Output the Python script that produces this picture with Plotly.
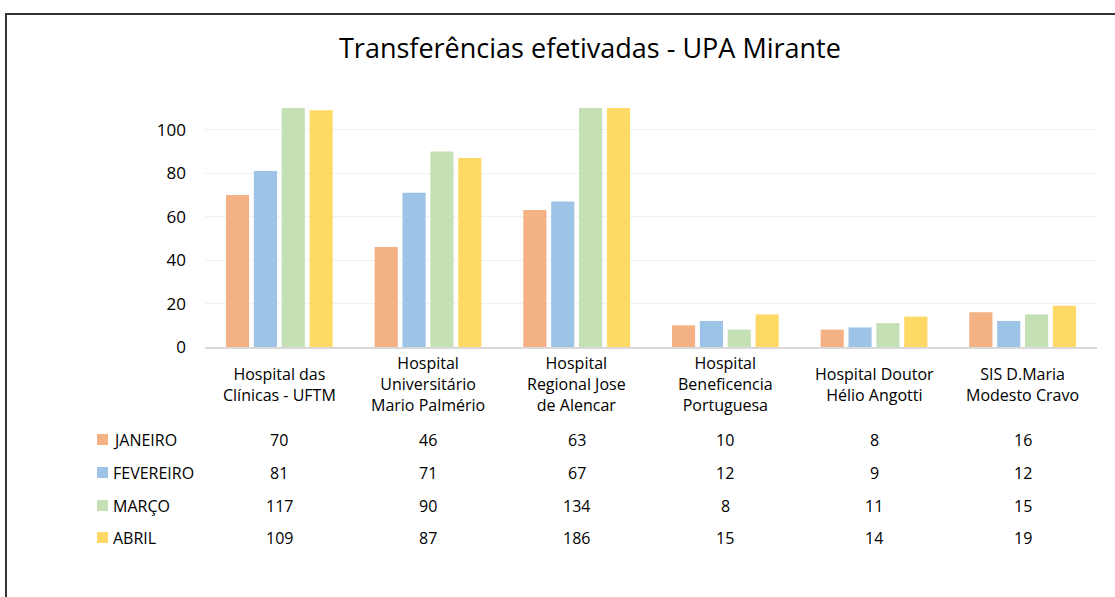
import plotly.graph_objects as go

categories = [
    "Hospital das<br>Clínicas - UFTM",
    "Hospital<br>Universitário<br>Mario Palmério",
    "Hospital<br>Regional Jose<br>de Alencar",
    "Hospital<br>Beneficencia<br>Portuguesa",
    "Hospital Doutor<br>Hélio Angotti",
    "SIS D.Maria<br>Modesto Cravo",
]
series_names = ["JANEIRO", "FEVEREIRO", "MARÇO", "ABRIL"]
janeiro = [70, 46, 63, 10, 8, 16]
fevereiro = [81, 71, 67, 12, 9, 12]
marco = [117, 90, 134, 8, 11, 15]
abril = [109, 87, 186, 15, 14, 19]
series_values = [janeiro, fevereiro, marco, abril]
colors = ["#F4B183", "#9DC3E6", "#C5E0B4", "#FFD966"]
y_ticks = [0, 20, 40, 60, 80, 100]

W, H = 1115, 597
L, R, T, B = 205, 18, 108, 250
PW, PH = W - L - R, H - T - B

def px(x):
    return (x - L) / PW

def py(y):
    return (H - B - y) / PH

FONT = "Open Sans"
TXT = "#000000"

fig = go.Figure()
xs = list(range(len(categories)))
for name, vals, col in zip(series_names, series_values, colors):
    fig.add_trace(go.Bar(x=xs, y=vals, name=name, marker=dict(color=col, line=dict(width=0)),
                         hoverinfo="y+name"))

annotations = []
annotations.append(dict(text="Transferências efetivadas - UPA Mirante", xref="paper", yref="paper",
                        x=px(590), y=py(47), xanchor="center", yanchor="middle", showarrow=False,
                        font=dict(family=FONT, size=27, color=TXT)))
for i, c in enumerate(categories):
    annotations.append(dict(text=c, xref="x", yref="paper", x=i, y=py(384), xanchor="center",
                            yanchor="middle", showarrow=False, align="center",
                            font=dict(family=FONT, size=16, color=TXT)))
row_y = [440, 473, 506, 538]
shapes = []
for r, (name, vals, col) in enumerate(zip(series_names, series_values, colors)):
    yy = row_y[r]
    shapes.append(dict(type="rect", xref="paper", yref="paper", x0=px(97), x1=px(108),
                       y0=py(yy - 6), y1=py(yy + 5), fillcolor=col, line=dict(width=0)))
    annotations.append(dict(text=name, xref="paper", yref="paper", x=px(111), y=py(yy),
                            xanchor="left", yanchor="middle", showarrow=False,
                            font=dict(family=FONT, size=16, color=TXT)))
    for i, v in enumerate(vals):
        annotations.append(dict(text=str(v), xref="x", yref="paper", x=i, y=py(yy),
                                xanchor="center", yanchor="middle", showarrow=False,
                                font=dict(family=FONT, size=16, color=TXT)))
shapes.append(dict(type="rect", xref="paper", yref="paper", x0=px(6), x1=px(1130), y0=py(14), y1=py(620),
                   line=dict(color="#333333", width=2), fillcolor="rgba(0,0,0,0)", layer="below"))

fig.update_layout(
    width=W, height=H,
    margin=dict(l=L, r=R, t=T, b=B, autoexpand=False),
    paper_bgcolor="white", plot_bgcolor="white",
    barmode="group", bargap=0.25, bargroupgap=0.17,
    showlegend=False,
    xaxis=dict(range=[-0.5, len(categories) - 0.5], showticklabels=False, ticks="",
               showgrid=False, showline=True, linecolor="#D9D9D9", linewidth=1.5, zeroline=False),
    yaxis=dict(range=[0, 110], tickvals=y_ticks, ticktext=[str(t) for t in y_ticks],
               showgrid=True, gridcolor="#F0F0F0", gridwidth=1, zeroline=False, showline=False,
               ticks="", ticklabelstandoff=18,
               tickfont=dict(family=FONT, size=17, color=TXT)),
    annotations=annotations,
    shapes=shapes,
)

fig.write_html("out.html", config={"displayModeBar": False},
               post_script="document.body.style.margin='0';document.body.style.overflow='hidden';")
